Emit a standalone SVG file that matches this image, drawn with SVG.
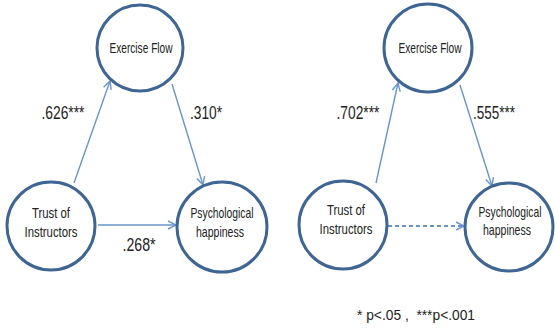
<svg xmlns="http://www.w3.org/2000/svg" width="555" height="329" viewBox="0 0 555 329">
<defs>
<style>
.node{fill:#fff;stroke:#3e6594;stroke-width:3}
.lbl{font-family:"Liberation Sans",Arial,sans-serif;font-size:15px;fill:#222;text-anchor:middle}
.coef{font-family:"Liberation Sans",Arial,sans-serif;font-size:18px;fill:#222;text-anchor:middle}
.edge{stroke:#6a95cc;stroke-width:1.4;fill:none}
.dash{stroke-dasharray:4 3;stroke-width:2}
</style>
<marker id="ah" viewBox="0 0 10 10" refX="9" refY="5" markerWidth="10" markerHeight="10" markerUnits="userSpaceOnUse" orient="auto">
<path d="M1,1 L9,5 L1,9" fill="none" stroke="#6a95cc" stroke-width="1.4"/>
</marker>
</defs>
<rect width="555" height="329" fill="#fff"/>
<g id="connectors">
<line class="edge" x1="74" y1="183" x2="110" y2="81" marker-end="url(#ah)"/>
<line class="edge" x1="172" y1="84" x2="203" y2="185" marker-end="url(#ah)"/>
<line class="edge" x1="98" y1="225" x2="176" y2="225" marker-end="url(#ah)"/>
<line class="edge" x1="376" y1="183" x2="398" y2="83" marker-end="url(#ah)"/>
<line class="edge" x1="460" y1="85" x2="492" y2="186" marker-end="url(#ah)"/>
<line class="edge dash" x1="388" y1="226" x2="464" y2="226" marker-end="url(#ah)"/>
</g>
<g id="left-exercise-flow">
<circle class="node" cx="140" cy="48" r="43"/>
<text class="lbl" x="141" y="53" textLength="63" lengthAdjust="spacingAndGlyphs">Exercise Flow</text>
</g>
<g id="left-trust">
<circle class="node" cx="51" cy="226" r="44"/>
<text class="lbl" x="51" y="218" textLength="38" lengthAdjust="spacingAndGlyphs">Trust of</text>
<text class="lbl" x="51" y="237" textLength="53" lengthAdjust="spacingAndGlyphs">Instructors</text>
</g>
<g id="left-psych">
<circle class="node" cx="222" cy="227" r="45"/>
<text class="lbl" x="222" y="218" textLength="63" lengthAdjust="spacingAndGlyphs">Psychological</text>
<text class="lbl" x="220" y="237" textLength="48" lengthAdjust="spacingAndGlyphs">happiness</text>
</g>
<g id="right-exercise-flow">
<circle class="node" cx="428" cy="48" r="44"/>
<text class="lbl" x="430" y="53" textLength="63" lengthAdjust="spacingAndGlyphs">Exercise Flow</text>
</g>
<g id="right-trust">
<circle class="node" cx="343" cy="225" r="44"/>
<text class="lbl" x="346" y="215" textLength="38" lengthAdjust="spacingAndGlyphs">Trust of</text>
<text class="lbl" x="346" y="234" textLength="53" lengthAdjust="spacingAndGlyphs">Instructors</text>
</g>
<g id="right-psych">
<circle class="node" cx="509" cy="227" r="44"/>
<text class="lbl" x="510" y="217" textLength="63" lengthAdjust="spacingAndGlyphs">Psychological</text>
<text class="lbl" x="507" y="235" textLength="48" lengthAdjust="spacingAndGlyphs">happiness</text>
</g>
<g id="labels">
<text class="coef" x="63" y="119" textLength="43" lengthAdjust="spacingAndGlyphs">.626***</text>
<text class="coef" x="206" y="119" textLength="32" lengthAdjust="spacingAndGlyphs">.310*</text>
<text class="coef" x="139" y="251" textLength="33" lengthAdjust="spacingAndGlyphs">.268*</text>
<text class="coef" x="358" y="119" textLength="43" lengthAdjust="spacingAndGlyphs">.702***</text>
<text class="coef" x="494" y="119" textLength="42" lengthAdjust="spacingAndGlyphs">.555***</text>
<text class="lbl" x="416" y="320" textLength="118" lengthAdjust="spacingAndGlyphs">* p&lt;.05 ,&#160; ***p&lt;.001</text>
</g>
</svg>
